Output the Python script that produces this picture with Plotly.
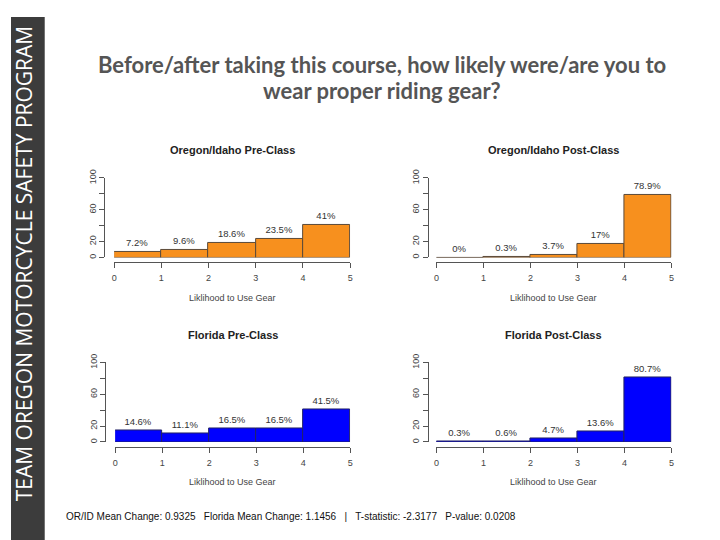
import plotly.graph_objects as go

# histogram bins (likelihood score) and percentages per panel
bin_edges = [0, 1, 2, 3, 4, 5]
bin_mids = [0.5, 1.5, 2.5, 3.5, 4.5]

or_pre = [7.2, 9.6, 18.6, 23.5, 41]
or_post = [0, 0.3, 3.7, 17, 78.9]
fl_pre = [14.6, 11.1, 16.5, 16.5, 41.5]
fl_post = [0.3, 0.6, 4.7, 13.6, 80.7]

panel_titles = ["Oregon/Idaho Pre-Class", "Oregon/Idaho Post-Class",
                "Florida Pre-Class", "Florida Post-Class"]
y_ticks = [0, 20, 40, 60, 80, 100]
y_ticktext = ["0", "20", "", "60", "", "100"]

W, H = 720, 540
ORANGE = "#F7901E"
BLUE = "#0000FF"
PAGE_OFF = 8  # the page body adds an 8px margin, so place things 8px up/left

def px(x):
    return (x - PAGE_OFF) / W

def py(y):
    return 1 - (y - PAGE_OFF) / H

# pixel layout of each panel: (x0, x5, y0, y100, yaxis_x, xaxis_y)
panels = [
    (112, 350, 253, 172, 102, 258),
    (437, 674, 253, 172, 428, 258),
    (113, 350, 441, 360, 103, 446),
    (437, 674, 441, 360, 428, 446),
]
series = [(or_pre, ORANGE), (or_post, ORANGE), (fl_pre, BLUE), (fl_post, BLUE)]

fig = go.Figure()
axfont = dict(family="Liberation Sans, Arial, sans-serif", size=9, color="#444")

def note(x, y, text, font, **kw):
    fig.add_annotation(x=px(x), y=py(y), xref="paper", yref="paper", text=text,
                       showarrow=False, xanchor=kw.pop("xanchor", "center"),
                       yanchor="middle", font=font, **kw)

for i, ((vals, col), p) in enumerate(zip(series, panels)):
    x0, x5, y0, y100, yax, xax = p
    n = "" if i == 0 else str(i + 1)
    fig.add_trace(go.Bar(
        x=bin_mids, y=vals, width=1,
        marker=dict(color=col, line=dict(color="#5a4a3a" if col == ORANGE else "#222266", width=1)),
        text=[f"{v:g}%" for v in vals], textposition="outside",
        textfont=dict(family="Liberation Sans, Arial, sans-serif", size=9.5, color="#333"),
        cliponaxis=False, xaxis="x" + n, yaxis="y" + n, showlegend=False,
    ))
    fig.layout["xaxis" + n] = dict(
        domain=[px(x0), px(x5)], range=[0, 5], anchor="free", position=py(xax),
        tickvals=bin_edges, ticks="outside", ticklen=5, tickcolor="#555",
        showline=True, linecolor="#555", linewidth=1, showgrid=False, zeroline=False,
        tickfont=axfont, ticklabelstandoff=2, fixedrange=True,
    )
    fig.layout["yaxis" + n] = dict(
        domain=[py(y0), py(y100)], range=[0, 100], anchor="free", position=px(yax),
        tickvals=y_ticks, ticktext=y_ticktext, tickangle=-90,
        ticks="outside", ticklen=5, tickcolor="#555",
        showline=True, linecolor="#555", linewidth=1, showgrid=False, zeroline=False,
        tickfont=axfont, fixedrange=True,
    )
    cx = (x0 + x5) / 2
    note(cx, y100 - 28, "<b>" + panel_titles[i] + "</b>",
         dict(family="Liberation Sans, Arial, sans-serif", size=11, color="#222"))
    note(cx, xax + 36, "Liklihood to Use Gear",
         dict(family="Liberation Sans, Arial, sans-serif", size=9, color="#444"))

# slide decoration
fig.add_shape(type="rect", xref="paper", yref="paper", x0=0, x1=px(42), y0=0, y1=1,
              fillcolor="#3c3c3c", line=dict(width=0), layer="below")
note(21, 259, "TEAM OREGON MOTORCYCLE SAFETY PROGRAM",
     dict(family="Open Sans, sans-serif", size=21, color="white"), textangle=-90)

title_font = dict(family="Lato, sans-serif", size=22, color="#555555")
note(382, 56, "<b>Before/after taking this course, how likely were/are you to</b>", title_font)
note(382, 83, "<b>wear proper riding gear?</b>", title_font)

note(61, 517, "OR/ID Mean Change: 0.9325   Florida Mean Change: 1.1456   |   T-statistic: -2.3177   P-value: 0.0208",
     dict(family="Liberation Sans, sans-serif", size=10, color="#111"), xanchor="left")

fig.update_layout(width=W, height=H, margin=dict(l=0, r=0, t=0, b=0),
                  plot_bgcolor="white", paper_bgcolor="white", bargap=0)

fig.write_html("out.html", config={"displayModeBar": False})
